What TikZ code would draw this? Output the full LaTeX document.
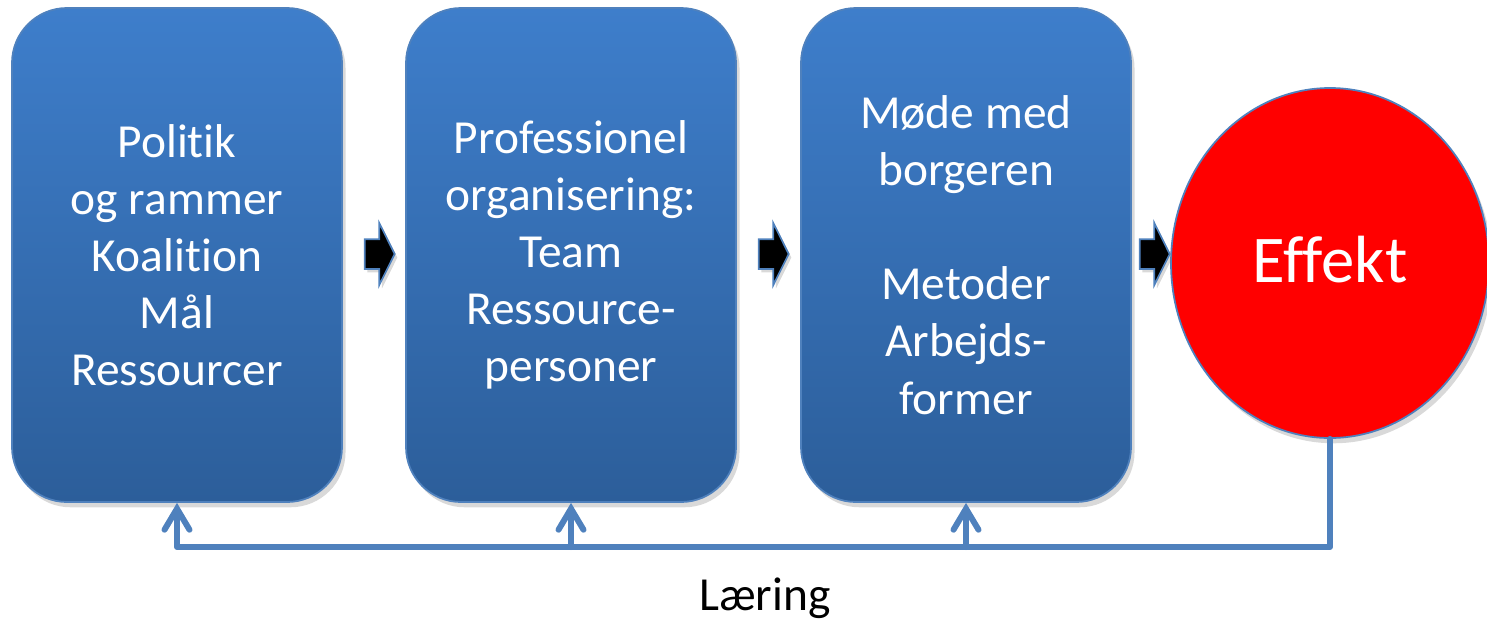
\documentclass[tikz,border=0pt]{standalone}
\usepackage{fontspec}
\setmainfont{Carlito}[Ligatures=NoCommon]
\usetikzlibrary{arrows.meta, shapes.geometric, shapes.arrows, shadows}

\definecolor{boxtop}{RGB}{62,126,203}
\definecolor{boxbot}{RGB}{44,94,154}
\definecolor{boxedge}{RGB}{79,129,189}
\definecolor{loopblue}{RGB}{79,129,189}

\begin{document}
\begin{tikzpicture}[thick,
    stage/.style={draw=boxedge, line width=1pt, rounded corners=1.1cm,
        top color=boxtop, bottom color=boxbot,
        minimum width=6.6cm, minimum height=9.88cm, align=center,
        text=white, font=\fontsize{27}{32.5}\selectfont,
        drop shadow={shadow xshift=2pt, shadow yshift=-3pt, opacity=0.3}},
    goal/.style={ellipse, draw=boxedge, line width=1pt, fill=red,
        minimum width=6.36cm, minimum height=7cm, inner sep=0pt,
        text=white, font=\fontsize{38}{44}\selectfont,
        drop shadow={shadow xshift=2pt, shadow yshift=-3pt, opacity=0.3}},
    chevron/.style={single arrow, draw=boxedge, line width=1pt, fill=black,
        minimum height=0.6cm, inner xsep=0pt, inner ysep=0.28cm,
        single arrow head extend=0.32cm, single arrow tip angle=127,
        drop shadow={shadow xshift=1.5pt, shadow yshift=-2pt, opacity=0.3}},
    feedback/.style={draw=loopblue, line width=3.4pt, line cap=round, line join=round},
    up/.style={feedback, -{Straight Barb[length=0.42cm, width=0.5cm, line cap=round]}}]
            \useasboundingbox (0,0) rectangle (29.74,-12.4);

            \draw (3.54,-5.1) node[stage] (politik) {Politik\\og rammer\\Koalition\\Mål\\Ressourcer};
            \draw (11.42,-5.1) node[stage] (organ) {Professionel\\organisering:\\Team\\Ressource-\\personer};
            \draw (19.32,-5.1) node[stage] (borger) {Møde med\\borgeren\\[32.5pt]Metoder\\Arbejds-\\former};
            \draw (26.6,-5.26) node[goal] (effekt) {\raisebox{4pt}{Effekt}};

            \draw (7.52,-5.08) node[chevron] (pil1) {};
            \draw (15.4,-5.08) node[chevron] (pil2) {};
            \draw (23.02,-5.08) node[chevron] (pil3) {};

            % feedback loop
            \coordinate (loop) at (0,-10.94);
            \draw[up] (effekt.south) |- (loop -| politik.south) -- (politik.south);
            \draw[up] (loop -| organ.south) -- (organ.south);
            \draw[up] (loop -| borger.south) -- (borger.south);

            \draw (15.3,-11.96) node[font=\fontsize{27}{32}\selectfont] (laering) {Læring};
        \end{tikzpicture}
\end{document}
